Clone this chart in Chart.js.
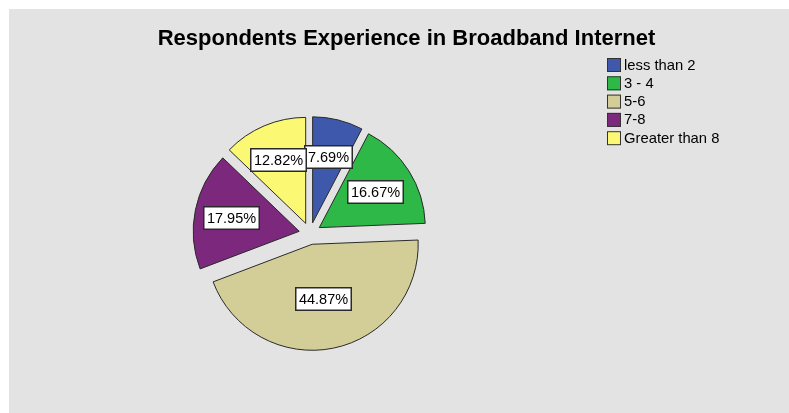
<!DOCTYPE html>
<html>
<head>
<meta charset="utf-8">
<script src="https://cdn.jsdelivr.net/npm/chart.js@4"></script>
<style>
  html, body { margin: 0; padding: 0; background: #fff; }
  .chart-container { position: relative; width: 789px; height: 413px; }
</style>
</head>
<body>
<div class="chart-container"><canvas id="chart"></canvas></div>
<script>
// 응답자 경험 연수 분포
const chartTitle = 'Respondents Experience in Broadband Internet';
const categories = ['less than 2', '3 - 4', '5-6', '7-8', 'Greater than 8'];
const percentages = [7.69, 16.67, 44.87, 17.95, 12.82];
const sliceColors = ['#3e58ac', '#2eb848', '#d3ce97', '#7c287d', '#fbf873'];

const EXPLODE = 11;                              // 조각 분리 거리(px)
const LABEL_POS = [0.64, 0.63, 0.53, 0.65, 0.65]; // 라벨 위치 (반지름 비율)
const FONT = '"Liberation Sans", Arial, sans-serif';

// 배경, 제목, 범례, 값 라벨을 그리는 플러그인
const spssLook = {
    id: 'spssLook',
    beforeDraw(chart) {
        const ctx = chart.ctx;
        ctx.save();
        ctx.fillStyle = '#fff';
        ctx.fillRect(0, 0, chart.width, chart.height);
        ctx.fillStyle = '#e3e3e3';
        ctx.fillRect(9, 9, chart.width - 9, chart.height - 9);

        ctx.fillStyle = '#000';
        ctx.font = 'bold 22px ' + FONT;
        ctx.textAlign = 'center';
        ctx.textBaseline = 'alphabetic';
        ctx.fillText(chartTitle, 406.5, 45);

        // 범례
        ctx.font = '14.8px ' + FONT;
        ctx.textAlign = 'left';
        ctx.textBaseline = 'middle';
        categories.forEach((label, i) => {
            const y = 58 + i * 18.3;
            ctx.fillStyle = sliceColors[i];
            ctx.fillRect(607, y, 14, 14);
            ctx.strokeStyle = '#333';
            ctx.lineWidth = 1;
            ctx.strokeRect(607.5, y + 0.5, 13, 13);
            ctx.fillStyle = '#000';
            ctx.fillText(label, 624, y + 7.5);
        });
        ctx.restore();
    },
    afterDatasetUpdate(chart, args) {
        // 모든 조각을 중심에서 바깥쪽으로 밀어냄
        args.meta.data.forEach(arc => {
            const mid = (arc.startAngle + arc.endAngle) / 2;
            arc.x += Math.cos(mid) * EXPLODE;
            arc.y += Math.sin(mid) * EXPLODE;
        });
    },
    afterDatasetsDraw(chart) {
        const ctx = chart.ctx;
        const meta = chart.getDatasetMeta(0);
        ctx.save();
        ctx.font = '14.5px ' + FONT;
        meta.data.forEach((arc, i) => {
            const mid = (arc.startAngle + arc.endAngle) / 2;
            const d = arc.outerRadius * LABEL_POS[i];
            const cx = arc.x + Math.cos(mid) * d;
            const cy = arc.y + Math.sin(mid) * d;
            const text = percentages[i].toFixed(2) + '%';
            const w = Math.round(ctx.measureText(text).width + 8);
            const h = 24;
            const x = Math.round(cx - w / 2);
            const y = Math.round(cy - h / 2);
            ctx.fillStyle = '#fff';
            ctx.fillRect(x, y, w, h);
            ctx.strokeStyle = '#2a2a2a';
            ctx.lineWidth = 1.5;
            ctx.strokeRect(x + 0.75, y + 0.75, w - 1.5, h - 1.5);
            ctx.fillStyle = '#000';
            ctx.textAlign = 'center';
            ctx.textBaseline = 'middle';
            ctx.fillText(text, x + w / 2, y + h / 2 + 1);
        });
        ctx.restore();
    }
};

new Chart(document.getElementById('chart').getContext('2d'), {
    type: 'pie',
    data: {
        labels: categories,
        datasets: [{
            data: percentages,
            backgroundColor: sliceColors,
            borderColor: '#2a2a2a',
            borderWidth: 1
        }]
    },
    options: {
        responsive: true,
        maintainAspectRatio: false,
        animation: false,
        events: [],
        radius: 106,
        layout: { padding: { left: 180, right: 349, top: 113.5, bottom: 59.5 } },
        plugins: {
            legend: { display: false },
            title: { display: false },
            tooltip: { enabled: false }
        }
    },
    plugins: [spssLook]
});
</script>
</body>
</html>
